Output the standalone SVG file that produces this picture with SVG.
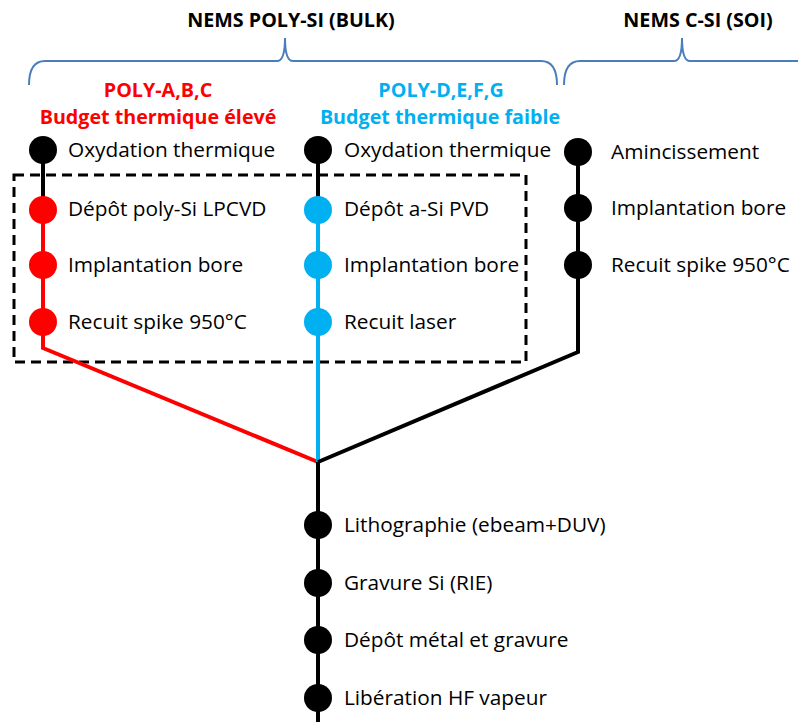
<svg xmlns="http://www.w3.org/2000/svg" width="798" height="722" viewBox="0 0 798 722">
<style>
.t{font-family:"Open Sans",Lato,"Liberation Sans",sans-serif;font-size:20.8px;fill:#000}
.h{font-family:"Open Sans",Lato,"Liberation Sans",sans-serif;font-size:19.7px;font-weight:bold;text-anchor:middle}
.brace{fill:none;stroke:#4A7EBB;stroke-width:2}
.ln{fill:none;stroke-width:4;stroke-linejoin:miter}
.k{fill:#000}.r{fill:#FF0000}.b{fill:#00B0F0}
</style>
<rect width="798" height="722" fill="#fff"/>
<g id="headers">
<text class="h" x="291" y="27" fill="#000">NEMS POLY-SI (BULK)</text>
<text class="h" x="698" y="27" fill="#000">NEMS C-SI (SOI)</text>
<text class="h" x="158" y="97" fill="#FF0000">POLY-A,B,C</text>
<text class="h" x="158" y="124" fill="#FF0000">Budget thermique élevé</text>
<text class="h" x="441" y="97" fill="#00B0F0">POLY-D,E,F,G</text>
<text class="h" x="440" y="124" fill="#00B0F0">Budget thermique faible</text>
</g>
<g id="braces">
<path class="brace" d="M29,85 Q29,61 45,61 L277,61 Q285,61 285,38 Q285,61 293,61 L541,61 Q557,61 557,85"/>
<path class="brace" d="M564,85 Q564,61 580,61 L674,61 Q682,61 682,38 Q682,61 690,61 L798,61"/>
</g>
<rect id="box" x="14" y="175" width="512" height="187" fill="none" stroke="#000" stroke-width="3" stroke-dasharray="10,6"/>
<g id="connectors">
<path class="ln" stroke="#000" d="M43,150 L43,210"/>
<path class="ln" stroke="#FF0000" d="M43,210 L43,348 L318,462"/>
<path class="ln" stroke="#000" d="M318,150 L318,210"/>
<path class="ln" stroke="#00B0F0" d="M318,210 L318,462"/>
<path class="ln" stroke="#000" d="M578,152 L578,352 L318,462"/>
<path class="ln" stroke="#000" d="M318,462 L318,722"/>
</g>
<g id="n1"><circle class="k" cx="43" cy="150" r="14"/><text class="t" x="68" y="157">Oxydation thermique</text></g>
<g id="n2"><circle class="r" cx="43" cy="210" r="14"/><text class="t" x="68" y="216">Dépôt poly-Si LPCVD</text></g>
<g id="n3"><circle class="r" cx="43" cy="265" r="14"/><text class="t" x="68" y="272">Implantation bore</text></g>
<g id="n4"><circle class="r" cx="43" cy="322" r="14"/><text class="t" x="68" y="329">Recuit spike 950°C</text></g>
<g id="n5"><circle class="k" cx="318" cy="150" r="14"/><text class="t" x="344" y="157">Oxydation thermique</text></g>
<g id="n6"><circle class="b" cx="318" cy="210" r="14"/><text class="t" x="344" y="216">Dépôt a-Si PVD</text></g>
<g id="n7"><circle class="b" cx="318" cy="265" r="14"/><text class="t" x="344" y="272">Implantation bore</text></g>
<g id="n8"><circle class="b" cx="318" cy="322" r="14"/><text class="t" x="344" y="329">Recuit laser</text></g>
<g id="n9"><circle class="k" cx="578" cy="152" r="14"/><text class="t" x="611" y="159">Amincissement</text></g>
<g id="n10"><circle class="k" cx="578" cy="208" r="14"/><text class="t" x="611" y="215">Implantation bore</text></g>
<g id="n11"><circle class="k" cx="578" cy="265" r="14"/><text class="t" x="611" y="272">Recuit spike 950°C</text></g>
<g id="n12"><circle class="k" cx="318" cy="525" r="14"/><text class="t" x="344" y="532">Lithographie (ebeam+DUV)</text></g>
<g id="n13"><circle class="k" cx="318" cy="583" r="14"/><text class="t" x="344" y="590">Gravure Si (RIE)</text></g>
<g id="n14"><circle class="k" cx="318" cy="640" r="14"/><text class="t" x="344" y="647">Dépôt métal et gravure</text></g>
<g id="n15"><circle class="k" cx="318" cy="698" r="14"/><text class="t" x="344" y="705">Libération HF vapeur</text></g>
</svg>
